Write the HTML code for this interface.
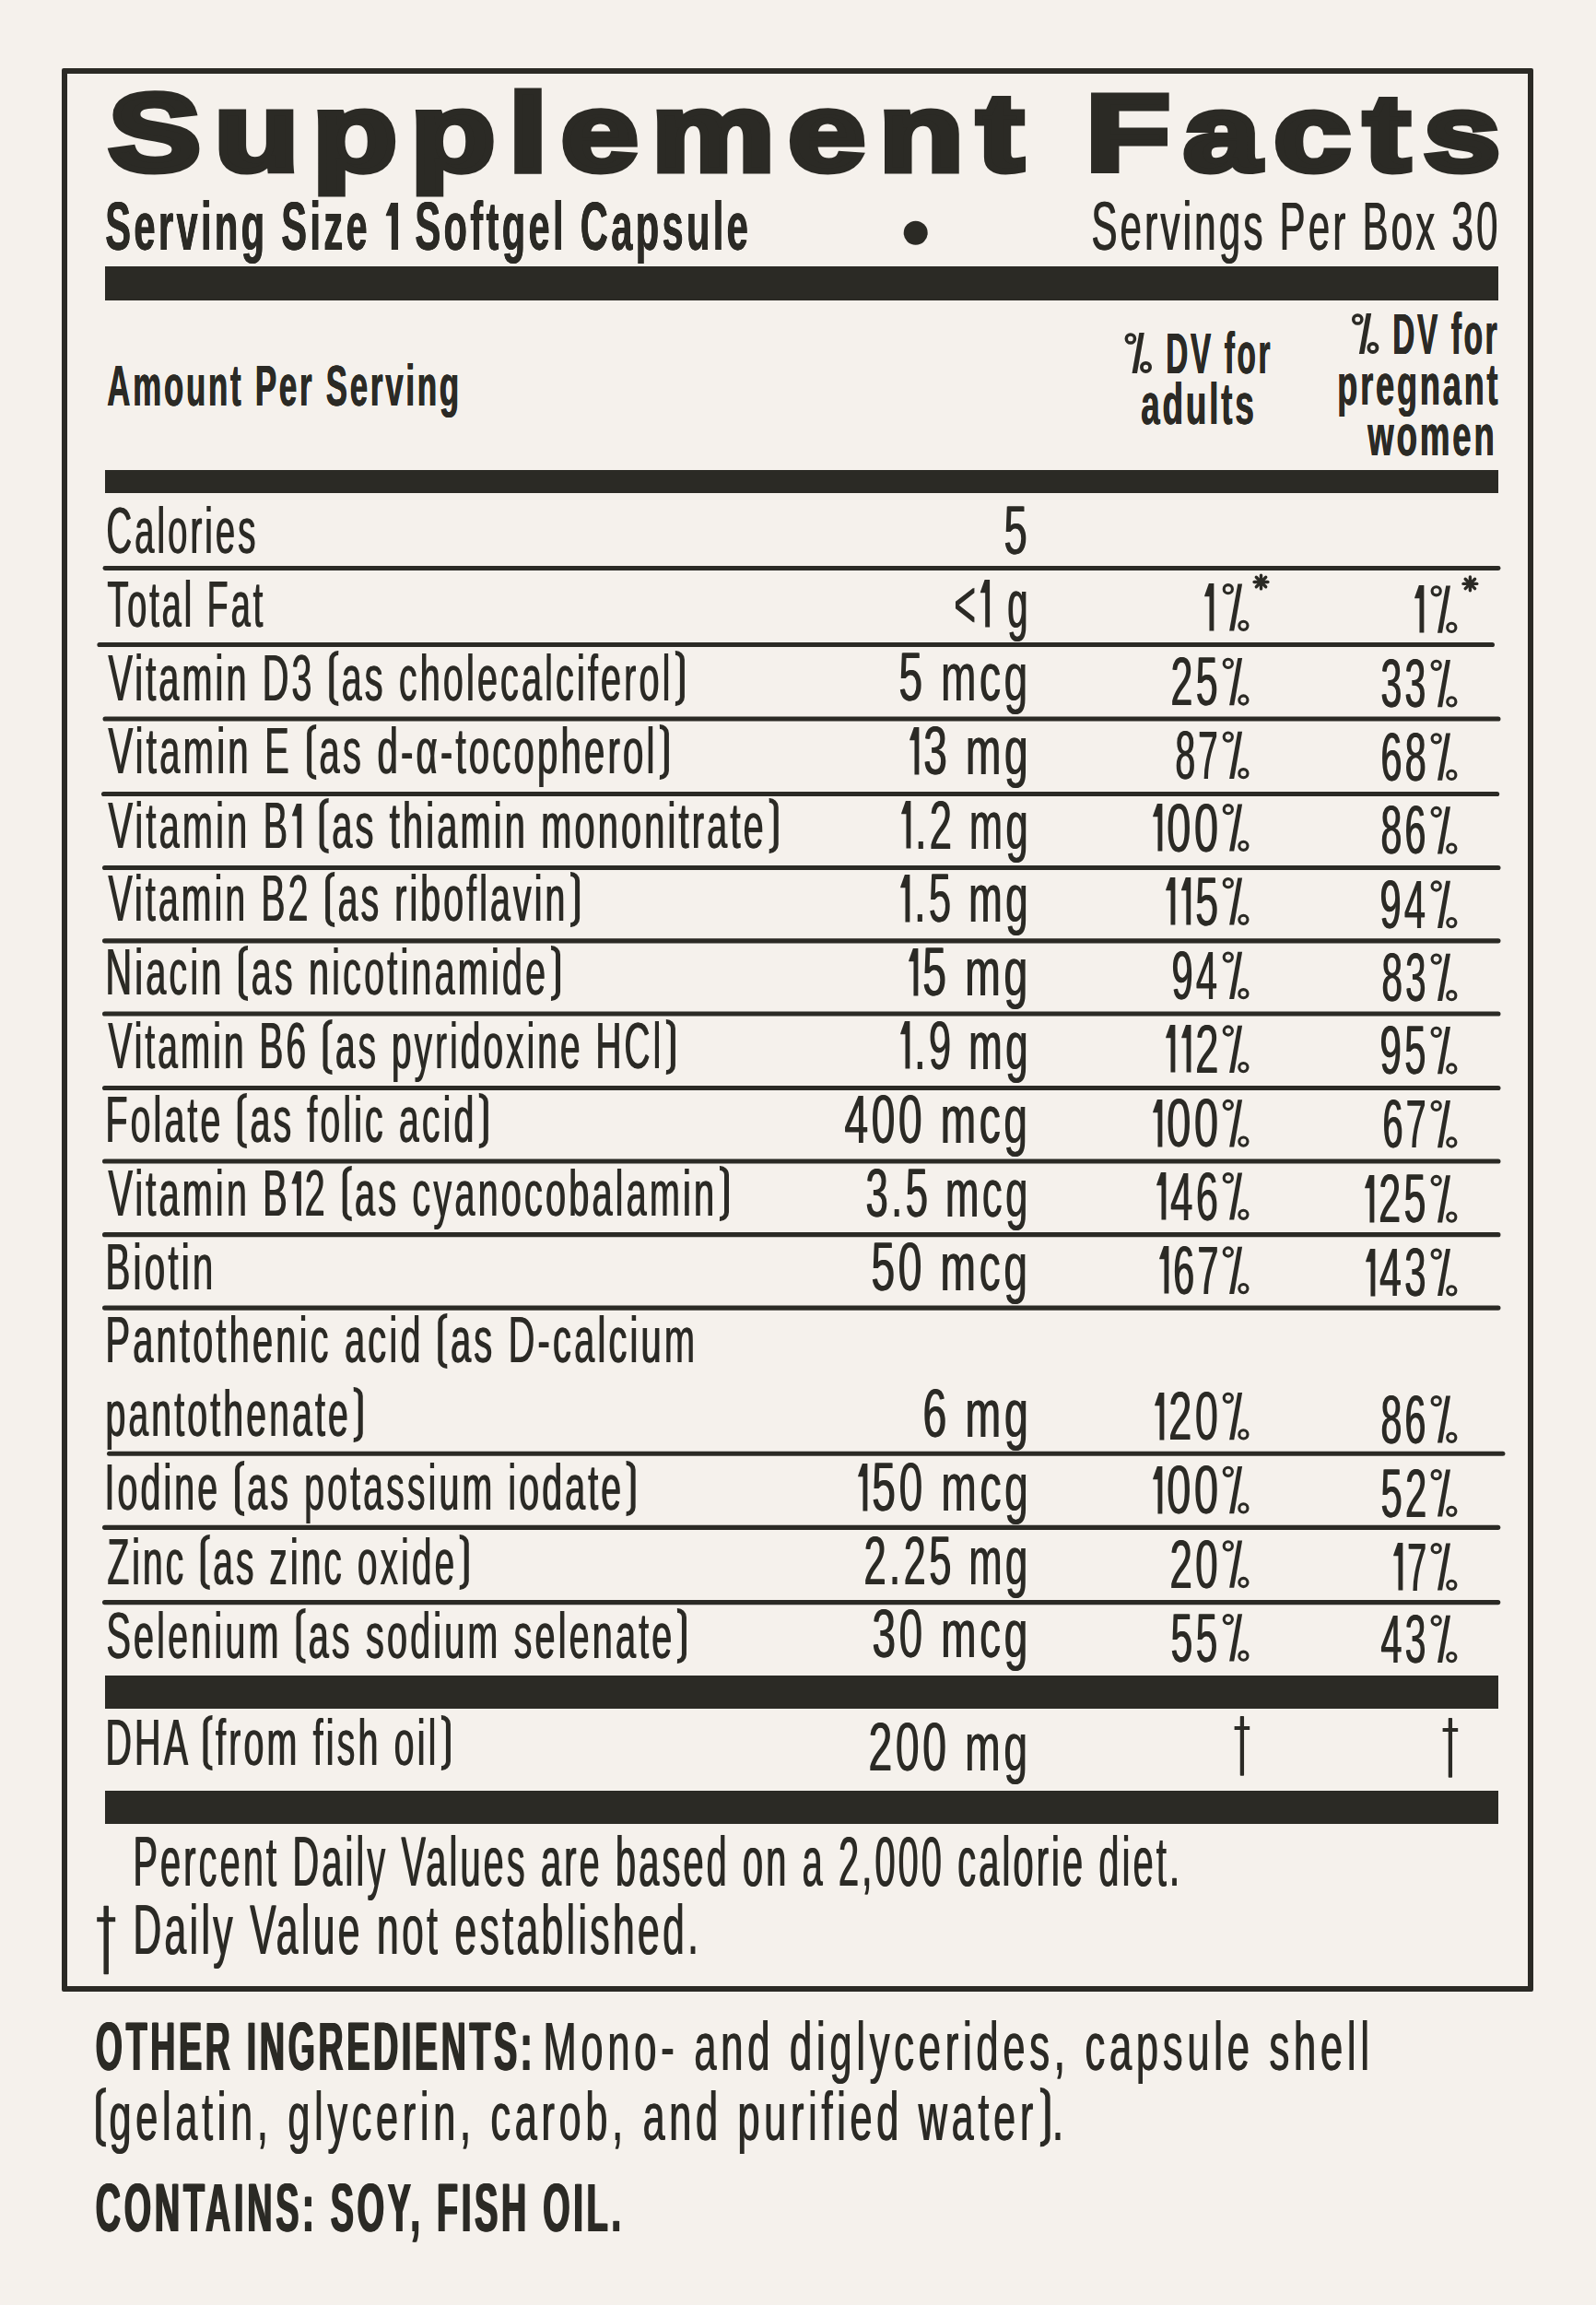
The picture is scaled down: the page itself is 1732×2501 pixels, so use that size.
<!DOCTYPE html>
<html><head><meta charset="utf-8"><title>Supplement Facts</title>
<style>
html,body{margin:0;padding:0}
body{width:1732px;height:2501px;position:relative;overflow:hidden;background:#f5f1ec;color:#2b2a25;font-family:"Liberation Sans",sans-serif}
.t{position:absolute;white-space:pre;transform-origin:0 0}
</style></head><body>
<div style='position:absolute;left:67px;top:74px;width:1585.4px;height:2075.4px;border:6.3px solid #2b2a25;border-radius:2px'></div>
<div style='position:absolute;left:114px;top:289px;width:1512.0px;height:37.0px;background:#2b2a25'></div>
<div style='position:absolute;left:114px;top:510px;width:1512.0px;height:25.0px;background:#2b2a25'></div>
<div style='position:absolute;left:114px;top:1817.7px;width:1512.4px;height:36.7px;background:#2b2a25'></div>
<div style='position:absolute;left:114px;top:1942.8px;width:1512.4px;height:36.7px;background:#2b2a25'></div>
<svg width='1732' height='2501' style='position:absolute;left:0;top:0'><line x1='113.9' y1='616.5' x2='1626.1' y2='616.5' stroke='#2b2a25' stroke-width='4.8' stroke-linecap='round'/><line x1='108.0' y1='699.5' x2='1619.4' y2='699.5' stroke='#2b2a25' stroke-width='5.2' stroke-linecap='round'/><line x1='114.1' y1='780' x2='1625.9' y2='780' stroke='#2b2a25' stroke-width='5.2' stroke-linecap='round'/><line x1='112.6' y1='861.5' x2='1624.6' y2='861.5' stroke='#2b2a25' stroke-width='5.2' stroke-linecap='round'/><line x1='113.6' y1='941.5' x2='1625.9' y2='941.5' stroke='#2b2a25' stroke-width='5.2' stroke-linecap='round'/><line x1='113.6' y1='1020.8' x2='1625.9' y2='1020.8' stroke='#2b2a25' stroke-width='5.2' stroke-linecap='round'/><line x1='113.6' y1='1100' x2='1625.9' y2='1100' stroke='#2b2a25' stroke-width='5.2' stroke-linecap='round'/><line x1='113.6' y1='1180.5' x2='1625.9' y2='1180.5' stroke='#2b2a25' stroke-width='5.2' stroke-linecap='round'/><line x1='113.6' y1='1260' x2='1625.9' y2='1260' stroke='#2b2a25' stroke-width='5.2' stroke-linecap='round'/><line x1='113.6' y1='1339.7' x2='1625.9' y2='1339.7' stroke='#2b2a25' stroke-width='5.2' stroke-linecap='round'/><line x1='113.6' y1='1419.1' x2='1625.9' y2='1419.1' stroke='#2b2a25' stroke-width='5.2' stroke-linecap='round'/><line x1='118.5' y1='1577.2' x2='1630.9' y2='1577.2' stroke='#2b2a25' stroke-width='5.0' stroke-linecap='round'/><line x1='113.6' y1='1657.3' x2='1625.7' y2='1657.3' stroke='#2b2a25' stroke-width='5.2' stroke-linecap='round'/><line x1='113.6' y1='1738.6' x2='1625.7' y2='1738.6' stroke='#2b2a25' stroke-width='5.2' stroke-linecap='round'/><circle cx='1332.8' cy='639.2' r='4.6' fill='none' stroke='#2b2a25' stroke-width='3.1'/><circle cx='1349.4' cy='678.8' r='4.6' fill='none' stroke='#2b2a25' stroke-width='3.1'/><polygon points='1334.1,684.6 1339.2,684.6 1348.1,633.4 1343.3,633.4' fill='#2b2a25'/><circle cx='1332.8' cy='719.9' r='4.6' fill='none' stroke='#2b2a25' stroke-width='3.1'/><circle cx='1349.4' cy='759.5' r='4.6' fill='none' stroke='#2b2a25' stroke-width='3.1'/><polygon points='1334.1,765.3 1339.2,765.3 1348.1,714.1 1343.3,714.1' fill='#2b2a25'/><circle cx='1332.8' cy='799.6' r='4.6' fill='none' stroke='#2b2a25' stroke-width='3.1'/><circle cx='1349.4' cy='839.2' r='4.6' fill='none' stroke='#2b2a25' stroke-width='3.1'/><polygon points='1334.1,845.0 1339.2,845.0 1348.1,793.8 1343.3,793.8' fill='#2b2a25'/><circle cx='1332.8' cy='878.2' r='4.6' fill='none' stroke='#2b2a25' stroke-width='3.1'/><circle cx='1349.4' cy='917.8' r='4.6' fill='none' stroke='#2b2a25' stroke-width='3.1'/><polygon points='1334.1,923.6 1339.2,923.6 1348.1,872.4 1343.3,872.4' fill='#2b2a25'/><circle cx='1332.8' cy='958.2' r='4.6' fill='none' stroke='#2b2a25' stroke-width='3.1'/><circle cx='1349.4' cy='997.8' r='4.6' fill='none' stroke='#2b2a25' stroke-width='3.1'/><polygon points='1334.1,1003.6 1339.2,1003.6 1348.1,952.4 1343.3,952.4' fill='#2b2a25'/><circle cx='1332.8' cy='1038.6' r='4.6' fill='none' stroke='#2b2a25' stroke-width='3.1'/><circle cx='1349.4' cy='1078.2' r='4.6' fill='none' stroke='#2b2a25' stroke-width='3.1'/><polygon points='1334.1,1084.0 1339.2,1084.0 1348.1,1032.8 1343.3,1032.8' fill='#2b2a25'/><circle cx='1332.8' cy='1118.5' r='4.6' fill='none' stroke='#2b2a25' stroke-width='3.1'/><circle cx='1349.4' cy='1158.1' r='4.6' fill='none' stroke='#2b2a25' stroke-width='3.1'/><polygon points='1334.1,1163.9 1339.2,1163.9 1348.1,1112.7 1343.3,1112.7' fill='#2b2a25'/><circle cx='1332.8' cy='1199.0' r='4.6' fill='none' stroke='#2b2a25' stroke-width='3.1'/><circle cx='1349.4' cy='1238.6' r='4.6' fill='none' stroke='#2b2a25' stroke-width='3.1'/><polygon points='1334.1,1244.4 1339.2,1244.4 1348.1,1193.2 1343.3,1193.2' fill='#2b2a25'/><circle cx='1332.8' cy='1278.2' r='4.6' fill='none' stroke='#2b2a25' stroke-width='3.1'/><circle cx='1349.4' cy='1317.8' r='4.6' fill='none' stroke='#2b2a25' stroke-width='3.1'/><polygon points='1334.1,1323.6 1339.2,1323.6 1348.1,1272.4 1343.3,1272.4' fill='#2b2a25'/><circle cx='1332.8' cy='1358.5' r='4.6' fill='none' stroke='#2b2a25' stroke-width='3.1'/><circle cx='1349.4' cy='1398.1' r='4.6' fill='none' stroke='#2b2a25' stroke-width='3.1'/><polygon points='1334.1,1403.9 1339.2,1403.9 1348.1,1352.7 1343.3,1352.7' fill='#2b2a25'/><circle cx='1332.8' cy='1516.8' r='4.6' fill='none' stroke='#2b2a25' stroke-width='3.1'/><circle cx='1349.4' cy='1556.4' r='4.6' fill='none' stroke='#2b2a25' stroke-width='3.1'/><polygon points='1334.1,1562.2 1339.2,1562.2 1348.1,1511.0 1343.3,1511.0' fill='#2b2a25'/><circle cx='1332.8' cy='1596.8' r='4.6' fill='none' stroke='#2b2a25' stroke-width='3.1'/><circle cx='1349.4' cy='1636.4' r='4.6' fill='none' stroke='#2b2a25' stroke-width='3.1'/><polygon points='1334.1,1642.2 1339.2,1642.2 1348.1,1591.0 1343.3,1591.0' fill='#2b2a25'/><circle cx='1332.8' cy='1677.4' r='4.6' fill='none' stroke='#2b2a25' stroke-width='3.1'/><circle cx='1349.4' cy='1717.0' r='4.6' fill='none' stroke='#2b2a25' stroke-width='3.1'/><polygon points='1334.1,1722.8 1339.2,1722.8 1348.1,1671.6 1343.3,1671.6' fill='#2b2a25'/><circle cx='1332.8' cy='1757.1' r='4.6' fill='none' stroke='#2b2a25' stroke-width='3.1'/><circle cx='1349.4' cy='1796.7' r='4.6' fill='none' stroke='#2b2a25' stroke-width='3.1'/><polygon points='1334.1,1802.5 1339.2,1802.5 1348.1,1751.3 1343.3,1751.3' fill='#2b2a25'/><circle cx='1558.7' cy='641.3' r='4.6' fill='none' stroke='#2b2a25' stroke-width='3.1'/><circle cx='1575.3' cy='680.9' r='4.6' fill='none' stroke='#2b2a25' stroke-width='3.1'/><polygon points='1560.0,686.7 1565.1,686.7 1574.0,635.5 1569.2,635.5' fill='#2b2a25'/><circle cx='1558.7' cy='721.8' r='4.6' fill='none' stroke='#2b2a25' stroke-width='3.1'/><circle cx='1575.3' cy='761.4' r='4.6' fill='none' stroke='#2b2a25' stroke-width='3.1'/><polygon points='1560.0,767.2 1565.1,767.2 1574.0,716.0 1569.2,716.0' fill='#2b2a25'/><circle cx='1558.7' cy='801.3' r='4.6' fill='none' stroke='#2b2a25' stroke-width='3.1'/><circle cx='1575.3' cy='840.9' r='4.6' fill='none' stroke='#2b2a25' stroke-width='3.1'/><polygon points='1560.0,846.7 1565.1,846.7 1574.0,795.5 1569.2,795.5' fill='#2b2a25'/><circle cx='1558.7' cy='881.0' r='4.6' fill='none' stroke='#2b2a25' stroke-width='3.1'/><circle cx='1575.3' cy='920.6' r='4.6' fill='none' stroke='#2b2a25' stroke-width='3.1'/><polygon points='1560.0,926.4 1565.1,926.4 1574.0,875.2 1569.2,875.2' fill='#2b2a25'/><circle cx='1558.7' cy='961.5' r='4.6' fill='none' stroke='#2b2a25' stroke-width='3.1'/><circle cx='1575.3' cy='1001.1' r='4.6' fill='none' stroke='#2b2a25' stroke-width='3.1'/><polygon points='1560.0,1006.9 1565.1,1006.9 1574.0,955.7 1569.2,955.7' fill='#2b2a25'/><circle cx='1558.7' cy='1040.6' r='4.6' fill='none' stroke='#2b2a25' stroke-width='3.1'/><circle cx='1575.3' cy='1080.2' r='4.6' fill='none' stroke='#2b2a25' stroke-width='3.1'/><polygon points='1560.0,1086.0 1565.1,1086.0 1574.0,1034.8 1569.2,1034.8' fill='#2b2a25'/><circle cx='1558.7' cy='1119.9' r='4.6' fill='none' stroke='#2b2a25' stroke-width='3.1'/><circle cx='1575.3' cy='1159.5' r='4.6' fill='none' stroke='#2b2a25' stroke-width='3.1'/><polygon points='1560.0,1165.3 1565.1,1165.3 1574.0,1114.1 1569.2,1114.1' fill='#2b2a25'/><circle cx='1558.7' cy='1199.9' r='4.6' fill='none' stroke='#2b2a25' stroke-width='3.1'/><circle cx='1575.3' cy='1239.5' r='4.6' fill='none' stroke='#2b2a25' stroke-width='3.1'/><polygon points='1560.0,1245.3 1565.1,1245.3 1574.0,1194.1 1569.2,1194.1' fill='#2b2a25'/><circle cx='1558.7' cy='1281.0' r='4.6' fill='none' stroke='#2b2a25' stroke-width='3.1'/><circle cx='1575.3' cy='1320.6' r='4.6' fill='none' stroke='#2b2a25' stroke-width='3.1'/><polygon points='1560.0,1326.4 1565.1,1326.4 1574.0,1275.2 1569.2,1275.2' fill='#2b2a25'/><circle cx='1558.7' cy='1360.7' r='4.6' fill='none' stroke='#2b2a25' stroke-width='3.1'/><circle cx='1575.3' cy='1400.3' r='4.6' fill='none' stroke='#2b2a25' stroke-width='3.1'/><polygon points='1560.0,1406.1 1565.1,1406.1 1574.0,1354.9 1569.2,1354.9' fill='#2b2a25'/><circle cx='1558.7' cy='1520.2' r='4.6' fill='none' stroke='#2b2a25' stroke-width='3.1'/><circle cx='1575.3' cy='1559.8' r='4.6' fill='none' stroke='#2b2a25' stroke-width='3.1'/><polygon points='1560.0,1565.6 1565.1,1565.6 1574.0,1514.4 1569.2,1514.4' fill='#2b2a25'/><circle cx='1558.7' cy='1600.2' r='4.6' fill='none' stroke='#2b2a25' stroke-width='3.1'/><circle cx='1575.3' cy='1639.8' r='4.6' fill='none' stroke='#2b2a25' stroke-width='3.1'/><polygon points='1560.0,1645.6 1565.1,1645.6 1574.0,1594.4 1569.2,1594.4' fill='#2b2a25'/><circle cx='1558.7' cy='1680.2' r='4.6' fill='none' stroke='#2b2a25' stroke-width='3.1'/><circle cx='1575.3' cy='1719.8' r='4.6' fill='none' stroke='#2b2a25' stroke-width='3.1'/><polygon points='1560.0,1725.6 1565.1,1725.6 1574.0,1674.4 1569.2,1674.4' fill='#2b2a25'/><circle cx='1558.7' cy='1758.5' r='4.6' fill='none' stroke='#2b2a25' stroke-width='3.1'/><circle cx='1575.3' cy='1798.1' r='4.6' fill='none' stroke='#2b2a25' stroke-width='3.1'/><polygon points='1560.0,1803.9 1565.1,1803.9 1574.0,1752.7 1569.2,1752.7' fill='#2b2a25'/><circle cx='1226.9' cy='367.5' r='4.6' fill='none' stroke='#2b2a25' stroke-width='3.5'/><circle cx='1243.5' cy='398.4' r='4.6' fill='none' stroke='#2b2a25' stroke-width='3.8'/><polygon points='1228.5,404.9 1234.0,404.9 1241.8,361.0 1236.3,361.0' fill='#2b2a25'/><circle cx='1473.3' cy='346.5' r='4.6' fill='none' stroke='#2b2a25' stroke-width='3.5'/><circle cx='1489.9' cy='377.4' r='4.6' fill='none' stroke='#2b2a25' stroke-width='3.8'/><polygon points='1474.9,383.9 1480.4,383.9 1488.2,340.0 1482.7,340.0' fill='#2b2a25'/><line x1='1361.1' y1='631.5' x2='1375.9' y2='631.5' stroke='#2b2a25' stroke-width='3.4' stroke-linecap='round'/><line x1='1363.3' y1='626.3' x2='1373.7' y2='636.7' stroke='#2b2a25' stroke-width='3.4' stroke-linecap='round'/><line x1='1368.5' y1='624.1' x2='1368.5' y2='638.9' stroke='#2b2a25' stroke-width='3.4' stroke-linecap='round'/><line x1='1373.7' y1='626.3' x2='1363.3' y2='636.7' stroke='#2b2a25' stroke-width='3.4' stroke-linecap='round'/><line x1='1588.0' y1='633.4' x2='1602.8' y2='633.4' stroke='#2b2a25' stroke-width='3.4' stroke-linecap='round'/><line x1='1590.2' y1='628.2' x2='1600.6' y2='638.6' stroke='#2b2a25' stroke-width='3.4' stroke-linecap='round'/><line x1='1595.4' y1='626.0' x2='1595.4' y2='640.8' stroke='#2b2a25' stroke-width='3.4' stroke-linecap='round'/><line x1='1600.6' y1='628.2' x2='1590.2' y2='638.6' stroke='#2b2a25' stroke-width='3.4' stroke-linecap='round'/><rect x='1345.75' y='1862.0' width='4.3' height='64.8' fill='#2b2a25' rx='0.8'/><rect x='1339.60' y='1873.0' width='16.6' height='4.0' fill='#2b2a25'/><rect x='1571.75' y='1864.0' width='4.3' height='64.8' fill='#2b2a25' rx='0.8'/><rect x='1565.60' y='1875.0' width='16.6' height='4.0' fill='#2b2a25'/><rect x='112.45' y='2067.7' width='5.5' height='74.5' fill='#2b2a25' rx='0.8'/><rect x='105.20' y='2080.2' width='20.0' height='5.0' fill='#2b2a25'/><circle cx='993.7' cy='252.8' r='13' fill='#2b2a25'/></svg>
<div class='t' style='left:113.63px;top:208.50px;font-size:74.182px;line-height:74.182px;font-weight:bold;letter-spacing:0.08em;transform:scaleX(0.56155);text-shadow:0.53px 0 0 #2b2a25,1.07px 0 0 #2b2a25;'>Serving Size <svg width='33.184' height='51.00' viewBox='0 0 18.635 51.00' preserveAspectRatio='none' style='vertical-align:0;overflow:visible'><polygon points='7.56,0 15.36,0 15.36,51.00 8.16,51.00 8.16,14.22 2.16,14.22 2.16,13.04' fill='#2b2a25'/></svg> Softgel Capsule</div>
<div class='t' style='left:1183.92px;top:208.50px;font-size:74.182px;line-height:74.182px;font-weight:normal;letter-spacing:0.08em;transform:scaleX(0.56313);text-shadow:1.60px 0 0 #2b2a25;'>Servings Per Box 30</div>
<div class='t' style='left:116.03px;top:387.00px;font-size:62.545px;line-height:62.545px;font-weight:bold;letter-spacing:0.08em;transform:scaleX(0.55646);text-shadow:0.54px 0 0 #2b2a25,1.08px 0 0 #2b2a25;'>Amount Per Serving</div>
<div class='t' style='left:1264.69px;top:351.80px;font-size:62.545px;line-height:62.545px;font-weight:bold;letter-spacing:0.08em;transform:scaleX(0.53257);text-shadow:0.56px 0 0 #2b2a25,1.13px 0 0 #2b2a25;'>DV for</div>
<div class='t' style='left:1237.91px;top:406.80px;font-size:62.545px;line-height:62.545px;font-weight:bold;letter-spacing:0.08em;transform:scaleX(0.58560);text-shadow:0.51px 0 0 #2b2a25,1.02px 0 0 #2b2a25;'>adults</div>
<div class='t' style='left:1511.09px;top:330.80px;font-size:62.545px;line-height:62.545px;font-weight:bold;letter-spacing:0.08em;transform:scaleX(0.53305);text-shadow:0.56px 0 0 #2b2a25,1.13px 0 0 #2b2a25;'>DV for</div>
<div class='t' style='left:1451.32px;top:385.80px;font-size:62.545px;line-height:62.545px;font-weight:bold;letter-spacing:0.08em;transform:scaleX(0.57600);text-shadow:0.52px 0 0 #2b2a25,1.04px 0 0 #2b2a25;'>pregnant</div>
<div class='t' style='left:1483.84px;top:441.40px;font-size:62.545px;line-height:62.545px;font-weight:bold;letter-spacing:0.08em;transform:scaleX(0.58433);text-shadow:0.51px 0 0 #2b2a25,1.03px 0 0 #2b2a25;'>women</div>
<div class='t' style='left:115.04px;top:542.00px;font-size:69.818px;line-height:69.818px;font-weight:normal;letter-spacing:0.08em;transform:scaleX(0.54868);text-shadow:1.64px 0 0 #2b2a25;'>Calories</div>
<div class='t' style='left:116.15px;top:622.00px;font-size:69.818px;line-height:69.818px;font-weight:normal;letter-spacing:0.08em;transform:scaleX(0.54013);text-shadow:1.67px 0 0 #2b2a25;'>Total Fat</div>
<div class='t' style='left:116.70px;top:701.50px;font-size:69.818px;line-height:69.818px;font-weight:normal;letter-spacing:0.08em;transform:scaleX(0.56593);text-shadow:1.59px 0 0 #2b2a25;'>Vitamin D3 <svg width='26.505' height='60.00' viewBox='0 0 15.000 60.00' preserveAspectRatio='none' style='vertical-align:-6.50px;overflow:visible'><path d='M12.00,2.50 A7.20,7.20 0 0 0 4.50,9.70 V50.30 A7.20,7.20 0 0 0 12.00,57.50' fill='none' stroke='#2b2a25' stroke-width='5.00'/></svg>as cholecalciferol<svg width='26.505' height='60.00' viewBox='0 0 15.000 60.00' preserveAspectRatio='none' style='vertical-align:-6.50px;overflow:visible'><path d='M3.00,2.50 A7.20,7.20 0 0 1 10.50,9.70 V50.30 A7.20,7.20 0 0 1 3.00,57.50' fill='none' stroke='#2b2a25' stroke-width='5.00'/></svg></div>
<div class='t' style='left:116.70px;top:781.00px;font-size:69.818px;line-height:69.818px;font-weight:normal;letter-spacing:0.08em;transform:scaleX(0.57409);text-shadow:1.57px 0 0 #2b2a25;'>Vitamin E <svg width='26.128' height='60.00' viewBox='0 0 15.000 60.00' preserveAspectRatio='none' style='vertical-align:-6.50px;overflow:visible'><path d='M12.00,2.50 A7.20,7.20 0 0 0 4.50,9.70 V50.30 A7.20,7.20 0 0 0 12.00,57.50' fill='none' stroke='#2b2a25' stroke-width='5.00'/></svg>as d-α-tocopherol<svg width='26.128' height='60.00' viewBox='0 0 15.000 60.00' preserveAspectRatio='none' style='vertical-align:-6.50px;overflow:visible'><path d='M3.00,2.50 A7.20,7.20 0 0 1 10.50,9.70 V50.30 A7.20,7.20 0 0 1 3.00,57.50' fill='none' stroke='#2b2a25' stroke-width='5.00'/></svg></div>
<div class='t' style='left:116.70px;top:861.80px;font-size:69.818px;line-height:69.818px;font-weight:normal;letter-spacing:0.08em;transform:scaleX(0.56904);text-shadow:1.58px 0 0 #2b2a25;'>Vitamin B<svg width='27.577' height='48.00' viewBox='0 0 15.692 48.00' preserveAspectRatio='none' style='vertical-align:0;overflow:visible'><polygon points='6.73,0 12.23,0 12.23,48.00 7.33,48.00 7.33,13.38 2.03,13.38 2.03,12.28' fill='#2b2a25'/></svg> <svg width='26.360' height='60.00' viewBox='0 0 15.000 60.00' preserveAspectRatio='none' style='vertical-align:-6.50px;overflow:visible'><path d='M12.00,2.50 A7.20,7.20 0 0 0 4.50,9.70 V50.30 A7.20,7.20 0 0 0 12.00,57.50' fill='none' stroke='#2b2a25' stroke-width='5.00'/></svg>as thiamin mononitrate<svg width='26.360' height='60.00' viewBox='0 0 15.000 60.00' preserveAspectRatio='none' style='vertical-align:-6.50px;overflow:visible'><path d='M3.00,2.50 A7.20,7.20 0 0 1 10.50,9.70 V50.30 A7.20,7.20 0 0 1 3.00,57.50' fill='none' stroke='#2b2a25' stroke-width='5.00'/></svg></div>
<div class='t' style='left:116.70px;top:941.00px;font-size:69.818px;line-height:69.818px;font-weight:normal;letter-spacing:0.08em;transform:scaleX(0.56142);text-shadow:1.60px 0 0 #2b2a25;'>Vitamin B2 <svg width='26.718' height='60.00' viewBox='0 0 15.000 60.00' preserveAspectRatio='none' style='vertical-align:-6.50px;overflow:visible'><path d='M12.00,2.50 A7.20,7.20 0 0 0 4.50,9.70 V50.30 A7.20,7.20 0 0 0 12.00,57.50' fill='none' stroke='#2b2a25' stroke-width='5.00'/></svg>as riboflavin<svg width='26.718' height='60.00' viewBox='0 0 15.000 60.00' preserveAspectRatio='none' style='vertical-align:-6.50px;overflow:visible'><path d='M3.00,2.50 A7.20,7.20 0 0 1 10.50,9.70 V50.30 A7.20,7.20 0 0 1 3.00,57.50' fill='none' stroke='#2b2a25' stroke-width='5.00'/></svg></div>
<div class='t' style='left:113.75px;top:1021.30px;font-size:69.818px;line-height:69.818px;font-weight:normal;letter-spacing:0.08em;transform:scaleX(0.56727);text-shadow:1.59px 0 0 #2b2a25;'>Niacin <svg width='26.442' height='60.00' viewBox='0 0 15.000 60.00' preserveAspectRatio='none' style='vertical-align:-6.50px;overflow:visible'><path d='M12.00,2.50 A7.20,7.20 0 0 0 4.50,9.70 V50.30 A7.20,7.20 0 0 0 12.00,57.50' fill='none' stroke='#2b2a25' stroke-width='5.00'/></svg>as nicotinamide<svg width='26.442' height='60.00' viewBox='0 0 15.000 60.00' preserveAspectRatio='none' style='vertical-align:-6.50px;overflow:visible'><path d='M3.00,2.50 A7.20,7.20 0 0 1 10.50,9.70 V50.30 A7.20,7.20 0 0 1 3.00,57.50' fill='none' stroke='#2b2a25' stroke-width='5.00'/></svg></div>
<div class='t' style='left:116.71px;top:1101.00px;font-size:69.818px;line-height:69.818px;font-weight:normal;letter-spacing:0.08em;transform:scaleX(0.55515);text-shadow:1.62px 0 0 #2b2a25;'>Vitamin B6 <svg width='27.020' height='60.00' viewBox='0 0 15.000 60.00' preserveAspectRatio='none' style='vertical-align:-6.50px;overflow:visible'><path d='M12.00,2.50 A7.20,7.20 0 0 0 4.50,9.70 V50.30 A7.20,7.20 0 0 0 12.00,57.50' fill='none' stroke='#2b2a25' stroke-width='5.00'/></svg>as pyridoxine HCl<svg width='27.020' height='60.00' viewBox='0 0 15.000 60.00' preserveAspectRatio='none' style='vertical-align:-6.50px;overflow:visible'><path d='M3.00,2.50 A7.20,7.20 0 0 1 10.50,9.70 V50.30 A7.20,7.20 0 0 1 3.00,57.50' fill='none' stroke='#2b2a25' stroke-width='5.00'/></svg></div>
<div class='t' style='left:113.78px;top:1181.00px;font-size:69.818px;line-height:69.818px;font-weight:normal;letter-spacing:0.08em;transform:scaleX(0.56260);text-shadow:1.60px 0 0 #2b2a25;'>Folate <svg width='26.662' height='60.00' viewBox='0 0 15.000 60.00' preserveAspectRatio='none' style='vertical-align:-6.50px;overflow:visible'><path d='M12.00,2.50 A7.20,7.20 0 0 0 4.50,9.70 V50.30 A7.20,7.20 0 0 0 12.00,57.50' fill='none' stroke='#2b2a25' stroke-width='5.00'/></svg>as folic acid<svg width='26.662' height='60.00' viewBox='0 0 15.000 60.00' preserveAspectRatio='none' style='vertical-align:-6.50px;overflow:visible'><path d='M3.00,2.50 A7.20,7.20 0 0 1 10.50,9.70 V50.30 A7.20,7.20 0 0 1 3.00,57.50' fill='none' stroke='#2b2a25' stroke-width='5.00'/></svg></div>
<div class='t' style='left:116.70px;top:1260.90px;font-size:69.818px;line-height:69.818px;font-weight:normal;letter-spacing:0.08em;transform:scaleX(0.56788);text-shadow:1.58px 0 0 #2b2a25;'>Vitamin B<svg width='27.633' height='48.00' viewBox='0 0 15.692 48.00' preserveAspectRatio='none' style='vertical-align:0;overflow:visible'><polygon points='6.73,0 12.23,0 12.23,48.00 7.33,48.00 7.33,13.38 2.03,13.38 2.03,12.28' fill='#2b2a25'/></svg>2 <svg width='26.414' height='60.00' viewBox='0 0 15.000 60.00' preserveAspectRatio='none' style='vertical-align:-6.50px;overflow:visible'><path d='M12.00,2.50 A7.20,7.20 0 0 0 4.50,9.70 V50.30 A7.20,7.20 0 0 0 12.00,57.50' fill='none' stroke='#2b2a25' stroke-width='5.00'/></svg>as cyanocobalamin<svg width='26.414' height='60.00' viewBox='0 0 15.000 60.00' preserveAspectRatio='none' style='vertical-align:-6.50px;overflow:visible'><path d='M3.00,2.50 A7.20,7.20 0 0 1 10.50,9.70 V50.30 A7.20,7.20 0 0 1 3.00,57.50' fill='none' stroke='#2b2a25' stroke-width='5.00'/></svg></div>
<div class='t' style='left:113.70px;top:1340.70px;font-size:69.818px;line-height:69.818px;font-weight:normal;letter-spacing:0.08em;transform:scaleX(0.57709);text-shadow:1.56px 0 0 #2b2a25;'>Biotin</div>
<div class='t' style='left:113.74px;top:1420.40px;font-size:69.818px;line-height:69.818px;font-weight:normal;letter-spacing:0.08em;transform:scaleX(0.57030);text-shadow:1.58px 0 0 #2b2a25;'>Pantothenic acid <svg width='26.302' height='60.00' viewBox='0 0 15.000 60.00' preserveAspectRatio='none' style='vertical-align:-6.50px;overflow:visible'><path d='M12.00,2.50 A7.20,7.20 0 0 0 4.50,9.70 V50.30 A7.20,7.20 0 0 0 12.00,57.50' fill='none' stroke='#2b2a25' stroke-width='5.00'/></svg>as D-calcium</div>
<div class='t' style='left:114.45px;top:1500.00px;font-size:69.818px;line-height:69.818px;font-weight:normal;letter-spacing:0.08em;transform:scaleX(0.56159);text-shadow:1.60px 0 0 #2b2a25;'>pantothenate<svg width='26.710' height='60.00' viewBox='0 0 15.000 60.00' preserveAspectRatio='none' style='vertical-align:-6.50px;overflow:visible'><path d='M3.00,2.50 A7.20,7.20 0 0 1 10.50,9.70 V50.30 A7.20,7.20 0 0 1 3.00,57.50' fill='none' stroke='#2b2a25' stroke-width='5.00'/></svg></div>
<div class='t' style='left:113.37px;top:1580.20px;font-size:69.818px;line-height:69.818px;font-weight:normal;letter-spacing:0.08em;transform:scaleX(0.56251);text-shadow:1.60px 0 0 #2b2a25;'>Iodine <svg width='26.666' height='60.00' viewBox='0 0 15.000 60.00' preserveAspectRatio='none' style='vertical-align:-6.50px;overflow:visible'><path d='M12.00,2.50 A7.20,7.20 0 0 0 4.50,9.70 V50.30 A7.20,7.20 0 0 0 12.00,57.50' fill='none' stroke='#2b2a25' stroke-width='5.00'/></svg>as potassium iodate<svg width='26.666' height='60.00' viewBox='0 0 15.000 60.00' preserveAspectRatio='none' style='vertical-align:-6.50px;overflow:visible'><path d='M3.00,2.50 A7.20,7.20 0 0 1 10.50,9.70 V50.30 A7.20,7.20 0 0 1 3.00,57.50' fill='none' stroke='#2b2a25' stroke-width='5.00'/></svg></div>
<div class='t' style='left:115.75px;top:1660.80px;font-size:69.818px;line-height:69.818px;font-weight:normal;letter-spacing:0.08em;transform:scaleX(0.55682);text-shadow:1.62px 0 0 #2b2a25;'>Zinc <svg width='26.938' height='60.00' viewBox='0 0 15.000 60.00' preserveAspectRatio='none' style='vertical-align:-6.50px;overflow:visible'><path d='M12.00,2.50 A7.20,7.20 0 0 0 4.50,9.70 V50.30 A7.20,7.20 0 0 0 12.00,57.50' fill='none' stroke='#2b2a25' stroke-width='5.00'/></svg>as zinc oxide<svg width='26.938' height='60.00' viewBox='0 0 15.000 60.00' preserveAspectRatio='none' style='vertical-align:-6.50px;overflow:visible'><path d='M3.00,2.50 A7.20,7.20 0 0 1 10.50,9.70 V50.30 A7.20,7.20 0 0 1 3.00,57.50' fill='none' stroke='#2b2a25' stroke-width='5.00'/></svg></div>
<div class='t' style='left:115.06px;top:1740.60px;font-size:69.818px;line-height:69.818px;font-weight:normal;letter-spacing:0.08em;transform:scaleX(0.56652);text-shadow:1.59px 0 0 #2b2a25;'>Selenium <svg width='26.477' height='60.00' viewBox='0 0 15.000 60.00' preserveAspectRatio='none' style='vertical-align:-6.50px;overflow:visible'><path d='M12.00,2.50 A7.20,7.20 0 0 0 4.50,9.70 V50.30 A7.20,7.20 0 0 0 12.00,57.50' fill='none' stroke='#2b2a25' stroke-width='5.00'/></svg>as sodium selenate<svg width='26.477' height='60.00' viewBox='0 0 15.000 60.00' preserveAspectRatio='none' style='vertical-align:-6.50px;overflow:visible'><path d='M3.00,2.50 A7.20,7.20 0 0 1 10.50,9.70 V50.30 A7.20,7.20 0 0 1 3.00,57.50' fill='none' stroke='#2b2a25' stroke-width='5.00'/></svg></div>
<div class='t' style='left:113.77px;top:1856.80px;font-size:69.818px;line-height:69.818px;font-weight:normal;letter-spacing:0.08em;transform:scaleX(0.56464);text-shadow:1.59px 0 0 #2b2a25;'>DHA <svg width='26.566' height='60.00' viewBox='0 0 15.000 60.00' preserveAspectRatio='none' style='vertical-align:-6.50px;overflow:visible'><path d='M12.00,2.50 A7.20,7.20 0 0 0 4.50,9.70 V50.30 A7.20,7.20 0 0 0 12.00,57.50' fill='none' stroke='#2b2a25' stroke-width='5.00'/></svg>from fish oil<svg width='26.566' height='60.00' viewBox='0 0 15.000 60.00' preserveAspectRatio='none' style='vertical-align:-6.50px;overflow:visible'><path d='M3.00,2.50 A7.20,7.20 0 0 1 10.50,9.70 V50.30 A7.20,7.20 0 0 1 3.00,57.50' fill='none' stroke='#2b2a25' stroke-width='5.00'/></svg></div>
<div class='t' style='left:1088.70px;top:538.00px;font-size:74.909px;line-height:74.909px;font-weight:normal;letter-spacing:0.08em;transform:scaleX(0.60551);text-shadow:1.49px 0 0 #2b2a25;'>5</div>
<div class='t' style='left:1034.63px;top:617.60px;font-size:74.909px;line-height:74.909px;font-weight:normal;letter-spacing:0.08em;transform:scaleX(0.53454);text-shadow:1.68px 0 0 #2b2a25;'>&lt;<svg width='31.497' height='51.50' viewBox='0 0 16.837 51.50' preserveAspectRatio='none' style='vertical-align:0;overflow:visible'><polygon points='6.88,0 12.38,0 12.38,51.50 7.48,51.50 7.48,14.36 2.18,14.36 2.18,13.17' fill='#2b2a25'/></svg> g</div>
<div class='t' style='left:975.17px;top:697.00px;font-size:74.909px;line-height:74.909px;font-weight:normal;letter-spacing:0.08em;transform:scaleX(0.61317);text-shadow:1.47px 0 0 #2b2a25;'>5 mcg</div>
<div class='t' style='left:984.81px;top:777.30px;font-size:74.909px;line-height:74.909px;font-weight:normal;letter-spacing:0.08em;transform:scaleX(0.61400);text-shadow:1.47px 0 0 #2b2a25;'><svg width='27.421' height='51.50' viewBox='0 0 16.837 51.50' preserveAspectRatio='none' style='vertical-align:0;overflow:visible'><polygon points='6.88,0 12.38,0 12.38,51.50 7.48,51.50 7.48,14.36 2.18,14.36 2.18,13.17' fill='#2b2a25'/></svg>3 mg</div>
<div class='t' style='left:975.61px;top:857.50px;font-size:74.909px;line-height:74.909px;font-weight:normal;letter-spacing:0.08em;transform:scaleX(0.57880);text-shadow:1.55px 0 0 #2b2a25;'><svg width='29.089' height='51.50' viewBox='0 0 16.837 51.50' preserveAspectRatio='none' style='vertical-align:0;overflow:visible'><polygon points='6.88,0 12.38,0 12.38,51.50 7.48,51.50 7.48,14.36 2.18,14.36 2.18,13.17' fill='#2b2a25'/></svg>.2 mg</div>
<div class='t' style='left:974.81px;top:937.00px;font-size:74.909px;line-height:74.909px;font-weight:normal;letter-spacing:0.08em;transform:scaleX(0.58310);text-shadow:1.54px 0 0 #2b2a25;'><svg width='28.874' height='51.50' viewBox='0 0 16.837 51.50' preserveAspectRatio='none' style='vertical-align:0;overflow:visible'><polygon points='6.88,0 12.38,0 12.38,51.50 7.48,51.50 7.48,14.36 2.18,14.36 2.18,13.17' fill='#2b2a25'/></svg>.5 mg</div>
<div class='t' style='left:984.21px;top:1017.00px;font-size:74.909px;line-height:74.909px;font-weight:normal;letter-spacing:0.08em;transform:scaleX(0.61751);text-shadow:1.46px 0 0 #2b2a25;'><svg width='27.265' height='51.50' viewBox='0 0 16.837 51.50' preserveAspectRatio='none' style='vertical-align:0;overflow:visible'><polygon points='6.88,0 12.38,0 12.38,51.50 7.48,51.50 7.48,14.36 2.18,14.36 2.18,13.17' fill='#2b2a25'/></svg>5 mg</div>
<div class='t' style='left:974.81px;top:1096.70px;font-size:74.909px;line-height:74.909px;font-weight:normal;letter-spacing:0.08em;transform:scaleX(0.58309);text-shadow:1.54px 0 0 #2b2a25;'><svg width='28.875' height='51.50' viewBox='0 0 16.837 51.50' preserveAspectRatio='none' style='vertical-align:0;overflow:visible'><polygon points='6.88,0 12.38,0 12.38,51.50 7.48,51.50 7.48,14.36 2.18,14.36 2.18,13.17' fill='#2b2a25'/></svg>.9 mg</div>
<div class='t' style='left:916.44px;top:1177.30px;font-size:74.909px;line-height:74.909px;font-weight:normal;letter-spacing:0.08em;transform:scaleX(0.61427);text-shadow:1.47px 0 0 #2b2a25;'>400 mcg</div>
<div class='t' style='left:938.86px;top:1257.00px;font-size:74.909px;line-height:74.909px;font-weight:normal;letter-spacing:0.08em;transform:scaleX(0.58169);text-shadow:1.55px 0 0 #2b2a25;'>3.5 mcg</div>
<div class='t' style='left:945.47px;top:1336.70px;font-size:74.909px;line-height:74.909px;font-weight:normal;letter-spacing:0.08em;transform:scaleX(0.61513);text-shadow:1.46px 0 0 #2b2a25;'>50 mcg</div>
<div class='t' style='left:1000.64px;top:1495.90px;font-size:74.909px;line-height:74.909px;font-weight:normal;letter-spacing:0.08em;transform:scaleX(0.61957);text-shadow:1.45px 0 0 #2b2a25;'>6 mg</div>
<div class='t' style='left:928.61px;top:1576.40px;font-size:74.909px;line-height:74.909px;font-weight:normal;letter-spacing:0.08em;transform:scaleX(0.61509);text-shadow:1.46px 0 0 #2b2a25;'><svg width='27.372' height='51.50' viewBox='0 0 16.837 51.50' preserveAspectRatio='none' style='vertical-align:0;overflow:visible'><polygon points='6.88,0 12.38,0 12.38,51.50 7.48,51.50 7.48,14.36 2.18,14.36 2.18,13.17' fill='#2b2a25'/></svg>50 mcg</div>
<div class='t' style='left:937.02px;top:1656.20px;font-size:74.909px;line-height:74.909px;font-weight:normal;letter-spacing:0.08em;transform:scaleX(0.57967);text-shadow:1.55px 0 0 #2b2a25;'>2.25 mg</div>
<div class='t' style='left:946.17px;top:1735.30px;font-size:74.909px;line-height:74.909px;font-weight:normal;letter-spacing:0.08em;transform:scaleX(0.61256);text-shadow:1.47px 0 0 #2b2a25;'>30 mcg</div>
<div class='t' style='left:942.38px;top:1858.00px;font-size:74.909px;line-height:74.909px;font-weight:normal;letter-spacing:0.08em;transform:scaleX(0.61693);text-shadow:1.46px 0 0 #2b2a25;'>200 mg</div>
<div class='t' style='left:1305.30px;top:621.60px;font-size:74.909px;line-height:74.909px;font-weight:normal;letter-spacing:0.08em;transform:scaleX(1.16367);text-shadow:0.77px 0 0 #2b2a25;'><svg width='14.468' height='51.50' viewBox='0 0 16.837 51.50' preserveAspectRatio='none' style='vertical-align:0;overflow:visible'><polygon points='6.88,0 12.38,0 12.38,51.50 7.48,51.50 7.48,14.36 2.18,14.36 2.18,13.17' fill='#2b2a25'/></svg></div>
<div class='t' style='left:1270.04px;top:702.30px;font-size:74.909px;line-height:74.909px;font-weight:normal;letter-spacing:0.08em;transform:scaleX(0.57258);text-shadow:1.57px 0 0 #2b2a25;'>25</div>
<div class='t' style='left:1274.99px;top:782.00px;font-size:74.909px;line-height:74.909px;font-weight:normal;letter-spacing:0.08em;transform:scaleX(0.51892);text-shadow:1.73px 0 0 #2b2a25;'>87</div>
<div class='t' style='left:1248.61px;top:860.60px;font-size:74.909px;line-height:74.909px;font-weight:normal;letter-spacing:0.08em;transform:scaleX(0.62485);text-shadow:1.44px 0 0 #2b2a25;'><svg width='26.945' height='51.50' viewBox='0 0 16.837 51.50' preserveAspectRatio='none' style='vertical-align:0;overflow:visible'><polygon points='6.88,0 12.38,0 12.38,51.50 7.48,51.50 7.48,14.36 2.18,14.36 2.18,13.17' fill='#2b2a25'/></svg>00</div>
<div class='t' style='left:1262.51px;top:940.60px;font-size:74.909px;line-height:74.909px;font-weight:normal;letter-spacing:0.08em;transform:scaleX(0.60216);text-shadow:1.49px 0 0 #2b2a25;'><svg width='27.960' height='51.50' viewBox='0 0 16.837 51.50' preserveAspectRatio='none' style='vertical-align:0;overflow:visible'><polygon points='6.88,0 12.38,0 12.38,51.50 7.48,51.50 7.48,14.36 2.18,14.36 2.18,13.17' fill='#2b2a25'/></svg><svg width='27.960' height='51.50' viewBox='0 0 16.837 51.50' preserveAspectRatio='none' style='vertical-align:0;overflow:visible'><polygon points='6.88,0 12.38,0 12.38,51.50 7.48,51.50 7.48,14.36 2.18,14.36 2.18,13.17' fill='#2b2a25'/></svg>5</div>
<div class='t' style='left:1271.03px;top:1021.00px;font-size:74.909px;line-height:74.909px;font-weight:normal;letter-spacing:0.08em;transform:scaleX(0.55506);text-shadow:1.62px 0 0 #2b2a25;'>94</div>
<div class='t' style='left:1262.51px;top:1100.90px;font-size:74.909px;line-height:74.909px;font-weight:normal;letter-spacing:0.08em;transform:scaleX(0.61026);text-shadow:1.47px 0 0 #2b2a25;'><svg width='27.589' height='51.50' viewBox='0 0 16.837 51.50' preserveAspectRatio='none' style='vertical-align:0;overflow:visible'><polygon points='6.88,0 12.38,0 12.38,51.50 7.48,51.50 7.48,14.36 2.18,14.36 2.18,13.17' fill='#2b2a25'/></svg><svg width='27.589' height='51.50' viewBox='0 0 16.837 51.50' preserveAspectRatio='none' style='vertical-align:0;overflow:visible'><polygon points='6.88,0 12.38,0 12.38,51.50 7.48,51.50 7.48,14.36 2.18,14.36 2.18,13.17' fill='#2b2a25'/></svg>2</div>
<div class='t' style='left:1248.61px;top:1181.40px;font-size:74.909px;line-height:74.909px;font-weight:normal;letter-spacing:0.08em;transform:scaleX(0.62485);text-shadow:1.44px 0 0 #2b2a25;'><svg width='26.945' height='51.50' viewBox='0 0 16.837 51.50' preserveAspectRatio='none' style='vertical-align:0;overflow:visible'><polygon points='6.88,0 12.38,0 12.38,51.50 7.48,51.50 7.48,14.36 2.18,14.36 2.18,13.17' fill='#2b2a25'/></svg>00</div>
<div class='t' style='left:1252.81px;top:1260.60px;font-size:74.909px;line-height:74.909px;font-weight:normal;letter-spacing:0.08em;transform:scaleX(0.57846);text-shadow:1.56px 0 0 #2b2a25;'><svg width='29.106' height='51.50' viewBox='0 0 16.837 51.50' preserveAspectRatio='none' style='vertical-align:0;overflow:visible'><polygon points='6.88,0 12.38,0 12.38,51.50 7.48,51.50 7.48,14.36 2.18,14.36 2.18,13.17' fill='#2b2a25'/></svg>46</div>
<div class='t' style='left:1255.60px;top:1340.90px;font-size:74.909px;line-height:74.909px;font-weight:normal;letter-spacing:0.08em;transform:scaleX(0.54941);text-shadow:1.64px 0 0 #2b2a25;'><svg width='30.645' height='51.50' viewBox='0 0 16.837 51.50' preserveAspectRatio='none' style='vertical-align:0;overflow:visible'><polygon points='6.88,0 12.38,0 12.38,51.50 7.48,51.50 7.48,14.36 2.18,14.36 2.18,13.17' fill='#2b2a25'/></svg>67</div>
<div class='t' style='left:1250.61px;top:1499.20px;font-size:74.909px;line-height:74.909px;font-weight:normal;letter-spacing:0.08em;transform:scaleX(0.60099);text-shadow:1.50px 0 0 #2b2a25;'><svg width='28.015' height='51.50' viewBox='0 0 16.837 51.50' preserveAspectRatio='none' style='vertical-align:0;overflow:visible'><polygon points='6.88,0 12.38,0 12.38,51.50 7.48,51.50 7.48,14.36 2.18,14.36 2.18,13.17' fill='#2b2a25'/></svg>20</div>
<div class='t' style='left:1248.61px;top:1579.20px;font-size:74.909px;line-height:74.909px;font-weight:normal;letter-spacing:0.08em;transform:scaleX(0.62485);text-shadow:1.44px 0 0 #2b2a25;'><svg width='26.945' height='51.50' viewBox='0 0 16.837 51.50' preserveAspectRatio='none' style='vertical-align:0;overflow:visible'><polygon points='6.88,0 12.38,0 12.38,51.50 7.48,51.50 7.48,14.36 2.18,14.36 2.18,13.17' fill='#2b2a25'/></svg>00</div>
<div class='t' style='left:1268.90px;top:1659.80px;font-size:74.909px;line-height:74.909px;font-weight:normal;letter-spacing:0.08em;transform:scaleX(0.58433);text-shadow:1.54px 0 0 #2b2a25;'>20</div>
<div class='t' style='left:1270.32px;top:1739.50px;font-size:74.909px;line-height:74.909px;font-weight:normal;letter-spacing:0.08em;transform:scaleX(0.56946);text-shadow:1.58px 0 0 #2b2a25;'>55</div>
<div class='t' style='left:1532.61px;top:623.70px;font-size:74.909px;line-height:74.909px;font-weight:normal;letter-spacing:0.08em;transform:scaleX(0.81954);text-shadow:1.10px 0 0 #2b2a25;'><svg width='20.544' height='51.50' viewBox='0 0 16.837 51.50' preserveAspectRatio='none' style='vertical-align:0;overflow:visible'><polygon points='6.88,0 12.38,0 12.38,51.50 7.48,51.50 7.48,14.36 2.18,14.36 2.18,13.17' fill='#2b2a25'/></svg></div>
<div class='t' style='left:1498.37px;top:704.20px;font-size:74.909px;line-height:74.909px;font-weight:normal;letter-spacing:0.08em;transform:scaleX(0.54565);text-shadow:1.65px 0 0 #2b2a25;'>33</div>
<div class='t' style='left:1497.90px;top:783.70px;font-size:74.909px;line-height:74.909px;font-weight:normal;letter-spacing:0.08em;transform:scaleX(0.55074);text-shadow:1.63px 0 0 #2b2a25;'>68</div>
<div class='t' style='left:1498.20px;top:863.40px;font-size:74.909px;line-height:74.909px;font-weight:normal;letter-spacing:0.08em;transform:scaleX(0.54751);text-shadow:1.64px 0 0 #2b2a25;'>86</div>
<div class='t' style='left:1496.93px;top:943.90px;font-size:74.909px;line-height:74.909px;font-weight:normal;letter-spacing:0.08em;transform:scaleX(0.55506);text-shadow:1.62px 0 0 #2b2a25;'>94</div>
<div class='t' style='left:1499.03px;top:1023.00px;font-size:74.909px;line-height:74.909px;font-weight:normal;letter-spacing:0.08em;transform:scaleX(0.53810);text-shadow:1.67px 0 0 #2b2a25;'>83</div>
<div class='t' style='left:1497.01px;top:1102.30px;font-size:74.909px;line-height:74.909px;font-weight:normal;letter-spacing:0.08em;transform:scaleX(0.56045);text-shadow:1.61px 0 0 #2b2a25;'>95</div>
<div class='t' style='left:1499.98px;top:1182.30px;font-size:74.909px;line-height:74.909px;font-weight:normal;letter-spacing:0.08em;transform:scaleX(0.52932);text-shadow:1.70px 0 0 #2b2a25;'>67</div>
<div class='t' style='left:1479.21px;top:1263.40px;font-size:74.909px;line-height:74.909px;font-weight:normal;letter-spacing:0.08em;transform:scaleX(0.57263);text-shadow:1.57px 0 0 #2b2a25;'><svg width='29.402' height='51.50' viewBox='0 0 16.837 51.50' preserveAspectRatio='none' style='vertical-align:0;overflow:visible'><polygon points='6.88,0 12.38,0 12.38,51.50 7.48,51.50 7.48,14.36 2.18,14.36 2.18,13.17' fill='#2b2a25'/></svg>25</div>
<div class='t' style='left:1480.01px;top:1343.10px;font-size:74.909px;line-height:74.909px;font-weight:normal;letter-spacing:0.08em;transform:scaleX(0.56353);text-shadow:1.60px 0 0 #2b2a25;'><svg width='29.877' height='51.50' viewBox='0 0 16.837 51.50' preserveAspectRatio='none' style='vertical-align:0;overflow:visible'><polygon points='6.88,0 12.38,0 12.38,51.50 7.48,51.50 7.48,14.36 2.18,14.36 2.18,13.17' fill='#2b2a25'/></svg>43</div>
<div class='t' style='left:1498.20px;top:1502.60px;font-size:74.909px;line-height:74.909px;font-weight:normal;letter-spacing:0.08em;transform:scaleX(0.54751);text-shadow:1.64px 0 0 #2b2a25;'>86</div>
<div class='t' style='left:1497.56px;top:1582.60px;font-size:74.909px;line-height:74.909px;font-weight:normal;letter-spacing:0.08em;transform:scaleX(0.55717);text-shadow:1.62px 0 0 #2b2a25;'>52</div>
<div class='t' style='left:1509.81px;top:1662.60px;font-size:74.909px;line-height:74.909px;font-weight:normal;letter-spacing:0.08em;transform:scaleX(0.49957);text-shadow:1.80px 0 0 #2b2a25;'><svg width='33.702' height='51.50' viewBox='0 0 16.837 51.50' preserveAspectRatio='none' style='vertical-align:0;overflow:visible'><polygon points='6.88,0 12.38,0 12.38,51.50 7.48,51.50 7.48,14.36 2.18,14.36 2.18,13.17' fill='#2b2a25'/></svg>7</div>
<div class='t' style='left:1498.05px;top:1740.90px;font-size:74.909px;line-height:74.909px;font-weight:normal;letter-spacing:0.08em;transform:scaleX(0.54923);text-shadow:1.64px 0 0 #2b2a25;'>43</div>
<div class='t' style='left:143.84px;top:1983.00px;font-size:75.636px;line-height:75.636px;font-weight:normal;letter-spacing:0.08em;transform:scaleX(0.52411);text-shadow:1.72px 0 0 #2b2a25;'>Percent Daily Values are based on a 2,000 calorie diet.</div>
<div class='t' style='left:143.60px;top:2057.40px;font-size:75.636px;line-height:75.636px;font-weight:normal;letter-spacing:0.08em;transform:scaleX(0.56231);text-shadow:1.60px 0 0 #2b2a25;'>Daily Value not established.</div>
<div class='t' style='left:102.83px;top:2182.80px;font-size:74.909px;line-height:74.909px;font-weight:bold;letter-spacing:0.1em;transform:scaleX(0.50006);text-shadow:1.60px 0 0 #2b2a25,3.20px 0 0 #2b2a25;'>OTHER INGREDIENTS:</div>
<div class='t' style='left:589.43px;top:2182.80px;font-size:74.909px;line-height:74.909px;font-weight:normal;letter-spacing:0.11em;transform:scaleX(0.58010);text-shadow:1.55px 0 0 #2b2a25;'>Mono- and diglycerides, capsule shell</div>
<div class='t' style='left:102.25px;top:2259.00px;font-size:74.909px;line-height:74.909px;font-weight:normal;letter-spacing:0.11em;transform:scaleX(0.57607);text-shadow:1.56px 0 0 #2b2a25;'><svg width='27.937' height='64.38' viewBox='0 0 16.094 64.38' preserveAspectRatio='none' style='vertical-align:-6.97px;overflow:visible'><path d='M12.88,2.68 A7.73,7.73 0 0 0 4.83,10.41 V53.97 A7.73,7.73 0 0 0 12.88,61.69' fill='none' stroke='#2b2a25' stroke-width='5.36'/></svg>gelatin, glycerin, carob, and purified water<svg width='27.937' height='64.38' viewBox='0 0 16.094 64.38' preserveAspectRatio='none' style='vertical-align:-6.97px;overflow:visible'><path d='M3.22,2.68 A7.73,7.73 0 0 1 11.27,10.41 V53.97 A7.73,7.73 0 0 1 3.22,61.69' fill='none' stroke='#2b2a25' stroke-width='5.36'/></svg>.</div>
<div class='t' style='left:102.82px;top:2357.60px;font-size:74.909px;line-height:74.909px;font-weight:bold;letter-spacing:0.1em;transform:scaleX(0.50364);text-shadow:1.59px 0 0 #2b2a25,3.18px 0 0 #2b2a25;'>CONTAINS: SOY, FISH OIL.</div>
<svg width='1732' height='300' style='position:absolute;left:0;top:0;font-family:"Liberation Sans",sans-serif'><text transform='translate(117.73 184.50) scale(1.27227 1)' font-size='117.818' font-weight='bold' fill='#2b2a25' stroke='#2b2a25' stroke-width='7.0' stroke-linejoin='miter' stroke-miterlimit='2' style='letter-spacing:0.1em'>Supplement</text><text transform='translate(1178.46 184.50) scale(1.26643 1)' font-size='117.818' font-weight='bold' fill='#2b2a25' stroke='#2b2a25' stroke-width='7.0' stroke-linejoin='miter' stroke-miterlimit='2' style='letter-spacing:0.1em'>Facts</text></svg>
</body></html>
